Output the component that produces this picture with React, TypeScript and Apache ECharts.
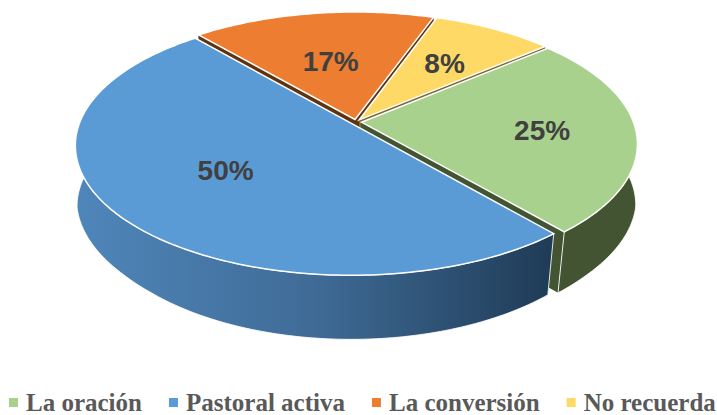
import React, { useEffect, useRef } from "react";
import * as echarts from "echarts";

// Data
const categories = ["La oración", "Pastoral activa", "La conversión", "No recuerda"];
const values = [6, 12, 4, 2];
const colors = ["#A9D18E", "#5B9BD5", "#ED7D31", "#FFD966"];
const cutColors = ["#435433", "#24405C", "#5F3210", "#7A6A38"];
const drawOrder = [2, 3, 0, 1];
const labelRadius = [0.66, 0.56, 0.51, 0.595];
const labelAngle = [6, 141, -101, -55];

// 3D projection
const START_DEG = -40.5;
const CX = 356, CY = 122, RX = 272, RY = 126, PERSP = 0.165;
const EXPLODE = 0.02;
const VX = 356;

const clamp = (v: number, a: number, b: number) => Math.min(b, Math.max(a, v));
const project = (X: number, Y: number): [number, number] => {
  const w = 1 - PERSP * Y;
  return [CX + (RX * X) / w, CY + (RY * Y) / w];
};
// The extrusion narrows toward the vanishing point and deepens toward the viewer.
const toBase = (p: [number, number]): [number, number] => {
  const t = clamp(0.006 + (p[1] - 146) * 0.00035, 0.006, 0.03);
  const dy = 61 + Math.max(0, p[1] - 231) * 0.07;
  return [p[0] - (p[0] - VX) * t, p[1] + dy];
};

const total = values.reduce((a, b) => a + b, 0);
const spans = values.map((v, i) => {
  const before = values.slice(0, i).reduce((a, b) => a + b, 0);
  const a0 = START_DEG + (before / total) * 360;
  return [a0, a0 + (v / total) * 360];
});
const labels = values.map((v) => `${Math.round((v / total) * 100)}%`);

const sliceShapes = (i: number) => {
  const [a0, a1] = spans[i];
  const mid = (((a0 + a1) / 2) * Math.PI) / 180;
  const ox = Math.cos(mid) * EXPLODE, oy = Math.sin(mid) * EXPLODE;
  const steps = Math.max(16, Math.round(a1 - a0));
  const arc: [number, number][] = [];
  for (let s = 0; s <= steps; s++) {
    const t = ((a0 + ((a1 - a0) * s) / steps) * Math.PI) / 180;
    arc.push(project(ox + Math.cos(t), oy + Math.sin(t)));
  }
  const vertex = project(ox, oy);
  const la = (labelAngle[i] * Math.PI) / 180;
  const labelPos = project(ox + Math.cos(la) * labelRadius[i], oy + Math.sin(la) * labelRadius[i]);
  return { arc, vertex, labelPos };
};

const renderSlice = (i: number) => () => {
  const { arc, vertex, labelPos } = sliceShapes(i);
  const first = arc[0], last = arc[arc.length - 1];
  const cutA = [vertex, first, toBase(first), toBase(vertex)];
  const cutB = [vertex, last, toBase(last), toBase(vertex)];
  const wall = [...arc, ...arc.map(toBase).reverse()];
  const wallFill: any =
    i === 1
      ? {
          type: "linear", x: 0, y: 0, x2: 1, y2: 0,
          colorStops: [
            { offset: 0, color: "#4F86BA" },
            { offset: 0.5, color: "#3F6B96" },
            { offset: 1, color: "#1F3B56" },
          ],
        }
      : cutColors[i];
  const frontFacing = i === 0 || i === 1;
  return {
    type: "group",
    children: [
      { type: "polygon", shape: { points: cutA }, style: { fill: cutColors[i] } },
      { type: "polygon", shape: { points: cutB }, style: { fill: cutColors[i] } },
      {
        type: "polygon",
        shape: { points: wall },
        style: frontFacing
          ? { fill: wallFill, stroke: "rgba(255,255,255,0.85)", lineWidth: 1 }
          : { fill: wallFill },
      },
      { type: "polygon", shape: { points: [vertex, ...arc] }, style: { fill: colors[i], stroke: "#fff", lineWidth: 1.5 } },
      {
        type: "text",
        style: {
          text: labels[i],
          x: labelPos[0],
          y: labelPos[1],
          align: "center",
          verticalAlign: "middle",
          fill: "#404040",
          font: 'bold 28px "Liberation Sans", Arial, sans-serif',
        },
      },
    ],
  };
};

export default function App() {
  const ref = useRef<HTMLDivElement>(null);
  useEffect(() => {
    const chart = echarts.init(ref.current!, undefined, { renderer: "svg" });
    chart.setOption({
      animation: false,
      backgroundColor: "#fff",
      legend: {
        data: categories,
        left: 9,
        top: 390,
        padding: 0,
        itemWidth: 9,
        itemHeight: 9,
        itemGap: 27,
        icon: "rect",
        textStyle: {
          color: "#595959",
          fontFamily: '"Liberation Serif", "Times New Roman", serif',
          fontWeight: "bold",
          fontSize: 25,
          padding: [0, 0, 0, 3],
        },
      },
      series: drawOrder.map((i) => ({
        type: "custom",
        name: categories[i],
        coordinateSystem: "none",
        silent: true,
        itemStyle: { color: colors[i] },
        data: [[values[i]]],
        renderItem: renderSlice(i),
      })),
    });
    return () => chart.dispose();
  }, []);
  return <div ref={ref} style={{ position: "fixed", left: 0, top: 0, width: 717, height: 415 }} />;
}
